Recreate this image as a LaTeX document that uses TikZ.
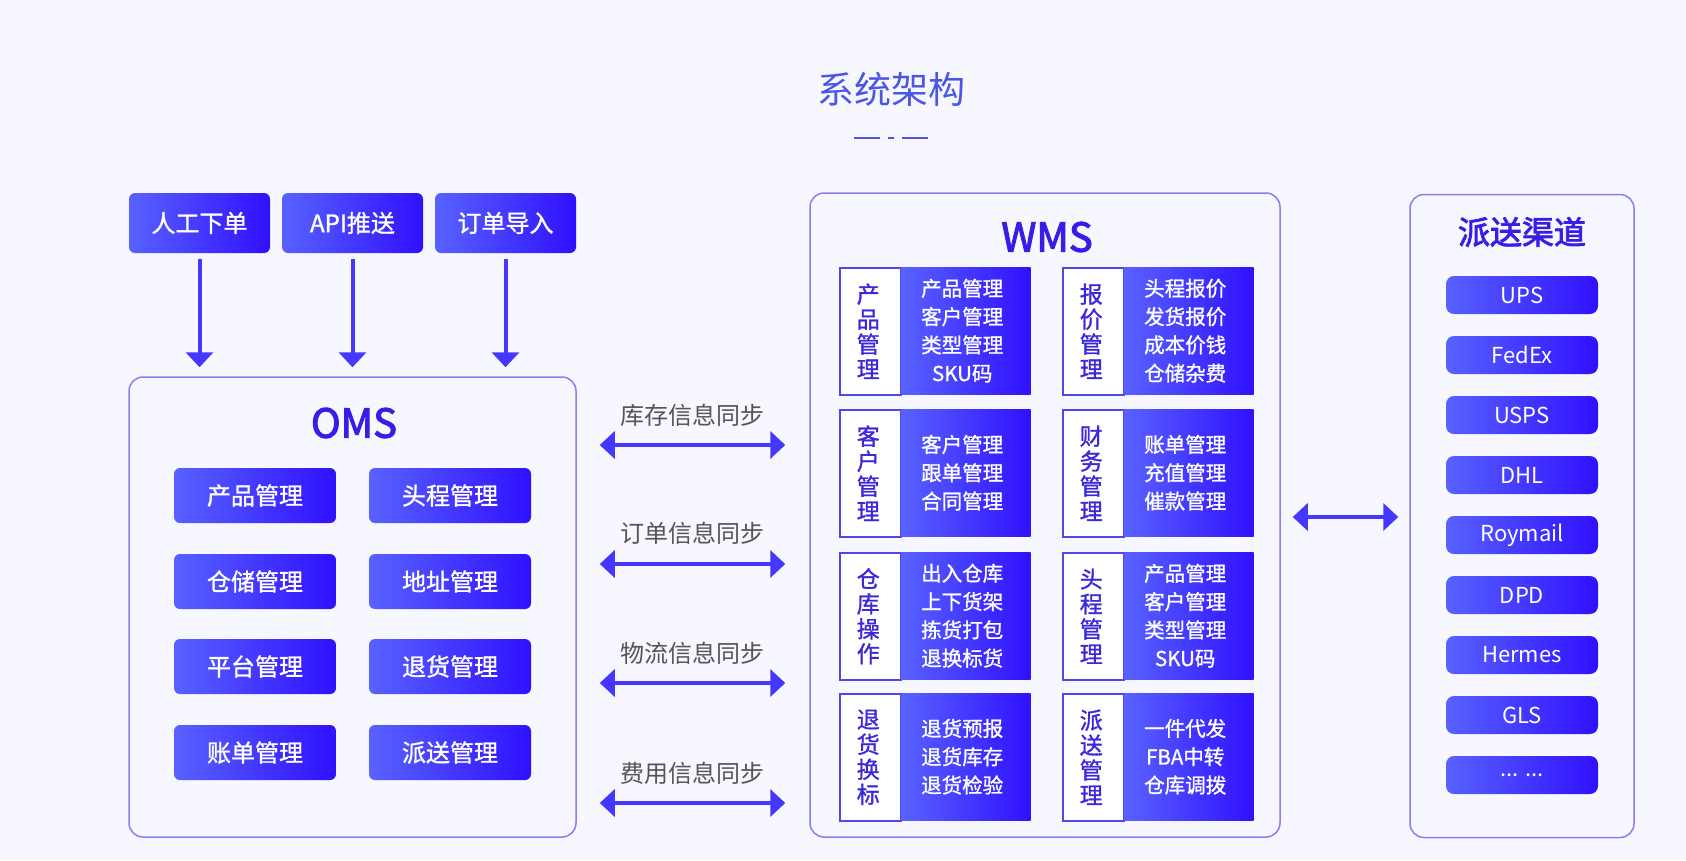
\documentclass[tikz,border=0pt]{standalone}
\usepackage{fontspec}
\setmainfont{Noto Sans CJK SC}
\newfontfamily\medf{Noto Sans CJK SC}[FakeBold=1.2]
\newfontfamily\semif{Noto Sans CJK SC}[FakeBold=2.6]
\usetikzlibrary{arrows.meta}
\definecolor{bg}{RGB}{246,247,255}
\definecolor{gL}{RGB}{88,98,255}
\definecolor{gR}{RGB}{48,16,255}
\definecolor{frame}{RGB}{140,125,245}
\definecolor{dark}{RGB}{55,30,230}
\definecolor{titlec}{RGB}{75,85,230}
\definecolor{greyt}{RGB}{85,85,85}
\definecolor{labc}{RGB}{60,40,220}
\definecolor{modb}{RGB}{80,70,240}
\definecolor{arrc}{RGB}{70,55,255}
\newcommand\fs[2]{\fontsize{#1}{#2}\selectfont}
\newcommand\wmsmod[5]{%
  \node[modlab, anchor=north west] (#1l) at (#2,#3) {};
  \node[modlabtext] (#1lt) at ([xshift=-2pt]#1l.center) {#4};
  \node[modbody, anchor=north west] (#1r) at (#1l.north east) {};
  \node[modtext] (#1t) at ([xshift=-4pt]#1r.center) {#5};
}
\begin{document}
\begin{tikzpicture}[x=1pt,y=-1pt,
  gbox/.style={shade, left color=gL, right color=gR, rounded corners=6pt, inner sep=0pt, text=white},
  topbox/.style={gbox, minimum width=141pt, minimum height=60pt, font=\medf\fs{24}{28}},
  omsbox/.style={gbox, minimum width=162pt, minimum height=55pt, font=\medf\fs{24}{28}},
  chbox/.style={gbox, rounded corners=8pt, minimum width=152pt, minimum height=38pt, font=\fs{22}{26}},
  container/.style={draw=frame, line width=1.5pt, fill=bg, rounded corners=14pt, inner sep=0pt},
  modlab/.style={draw=modb, line width=1.5pt, fill=white, minimum width=61pt, minimum height=127pt, inner sep=0pt},
  modlabtext/.style={inner sep=0pt, text=labc, align=center, font=\medf\fs{23}{25}},
  modbody/.style={shade, left color=gL, right color=gR, minimum width=129pt, minimum height=127pt, inner sep=0pt},
  modtext/.style={inner sep=0pt, text=white, align=center, font=\medf\fs{20.5}{28.3}},
  arr/.style={draw=arrc, line width=4pt, -{Triangle[width=27pt,length=15pt]}},
  dbl/.style={draw=arrc, line width=4pt, {Triangle[width=27pt,length=15pt]}-{Triangle[width=27pt,length=15pt]}},
  synclab/.style={text=greyt, font=\fs{24}{28}, inner sep=0pt}
]
\fill[bg] (0,0) rectangle (1686,860);
\path[use as bounding box] (0,0) rectangle (1686,860);

% title
\node[text=titlec, font=\fs{37}{40}, inner sep=0pt] (title) at (891,89) {系统架构};
\draw[titlec, line width=2.5pt] (854,138) -- (880,138);
\draw[titlec, line width=2.5pt] (888,138) -- (894,138);
\draw[titlec, line width=2.5pt] (902,138) -- (928,138);

% input boxes
\node[topbox] (in1) at (199.5,223) {人工下单};
\node[topbox] (in2) at (352.5,223) {API推送};
\node[topbox] (in3) at (505.5,223) {订单导入};

% OMS
\node[container, minimum width=447pt, minimum height=460pt] (oms) at (352.5,607) {};
\node[text=dark, font=\semif\fs{40}{44}, inner sep=0pt] (omst) at (354,423) {OMS};
\node[omsbox] (o1) at (255,495.5) {产品管理};
\node[omsbox] (o2) at (450,495.5) {头程管理};
\node[omsbox] (o3) at (255,581.5) {仓储管理};
\node[omsbox] (o4) at (450,581.5) {地址管理};
\node[omsbox] (o5) at (255,666.5) {平台管理};
\node[omsbox] (o6) at (450,666.5) {退货管理};
\node[omsbox] (o7) at (255,752.5) {账单管理};
\node[omsbox] (o8) at (450,752.5) {派送管理};

\draw[arr, shorten <=6pt, shorten >=9pt] (in1.south) -- (in1.south |- oms.north);
\draw[arr, shorten <=6pt, shorten >=9pt] (in2.south) -- (in2.south |- oms.north);
\draw[arr, shorten <=6pt, shorten >=9pt] (in3.south) -- (in3.south |- oms.north);

% WMS
\node[container, minimum width=470pt, minimum height=644pt] (wms) at (1045,515) {};
\node[text=dark, font=\semif\fs{40}{44}, inner sep=0pt] (wmst) at (1047,237) {WMS};
\wmsmod{m1}{839}{267}{产\\品\\管\\理}{产品管理\\客户管理\\类型管理\\SKU码}
\wmsmod{m2}{1062}{267}{报\\价\\管\\理}{头程报价\\发货报价\\成本价钱\\仓储杂费}
\wmsmod{m3}{839}{409}{客\\户\\管\\理}{客户管理\\跟单管理\\合同管理}
\wmsmod{m4}{1062}{409}{财\\务\\管\\理}{账单管理\\充值管理\\催款管理}
\wmsmod{m5}{839}{552}{仓\\库\\操\\作}{出入仓库\\上下货架\\拣货打包\\退换标货}
\wmsmod{m6}{1062}{552}{头\\程\\管\\理}{产品管理\\客户管理\\类型管理\\SKU码}
\wmsmod{m7}{839}{693}{退\\货\\换\\标}{退货预报\\退货库存\\退货检验}
\wmsmod{m8}{1062}{693}{派\\送\\管\\理}{一件代发\\FBA中转\\仓库调拨}

% sync arrows
\node[synclab] (l1) at (692,415) {库存信息同步};
\node[synclab] (l2) at (692,533) {订单信息同步};
\node[synclab] (l3) at (692,653) {物流信息同步};
\node[synclab] (l4) at (692,773) {费用信息同步};
\coordinate (s1) at (692,445);
\coordinate (s2) at (692,564);
\coordinate (s3) at (692,683);
\coordinate (s4) at (692,803);
\draw[dbl, shorten <=23pt, shorten >=24pt] (oms.east |- s1) -- (wms.west |- s1);
\draw[dbl, shorten <=23pt, shorten >=24pt] (oms.east |- s2) -- (wms.west |- s2);
\draw[dbl, shorten <=23pt, shorten >=24pt] (oms.east |- s3) -- (wms.west |- s3);
\draw[dbl, shorten <=23pt, shorten >=24pt] (oms.east |- s4) -- (wms.west |- s4);

% channels
\node[container, minimum width=224pt, minimum height=643pt] (ch) at (1522,516) {};
\node[text=dark, font=\semif\fs{32}{36}, inner sep=0pt] (cht) at (1522,232) {派送渠道};
\node[chbox] (c1) at (1522,295) {UPS};
\node[chbox] (c2) at (1522,355) {FedEx};
\node[chbox] (c3) at (1522,415) {USPS};
\node[chbox] (c4) at (1522,475) {DHL};
\node[chbox] (c5) at (1522,535) {Roymail};
\node[chbox] (c6) at (1522,595) {DPD};
\node[chbox] (c7) at (1522,655) {Hermes};
\node[chbox] (c8) at (1522,715) {GLS};
\node[chbox] (c9) at (1522,775) {\raisebox{-4pt}{...\hspace{7pt}...}};

\coordinate (s5) at (1345,517);
\draw[dbl, shorten <=12pt, shorten >=11pt] (wms.east |- s5) -- (ch.west |- s5);
\end{tikzpicture}
\end{document}
